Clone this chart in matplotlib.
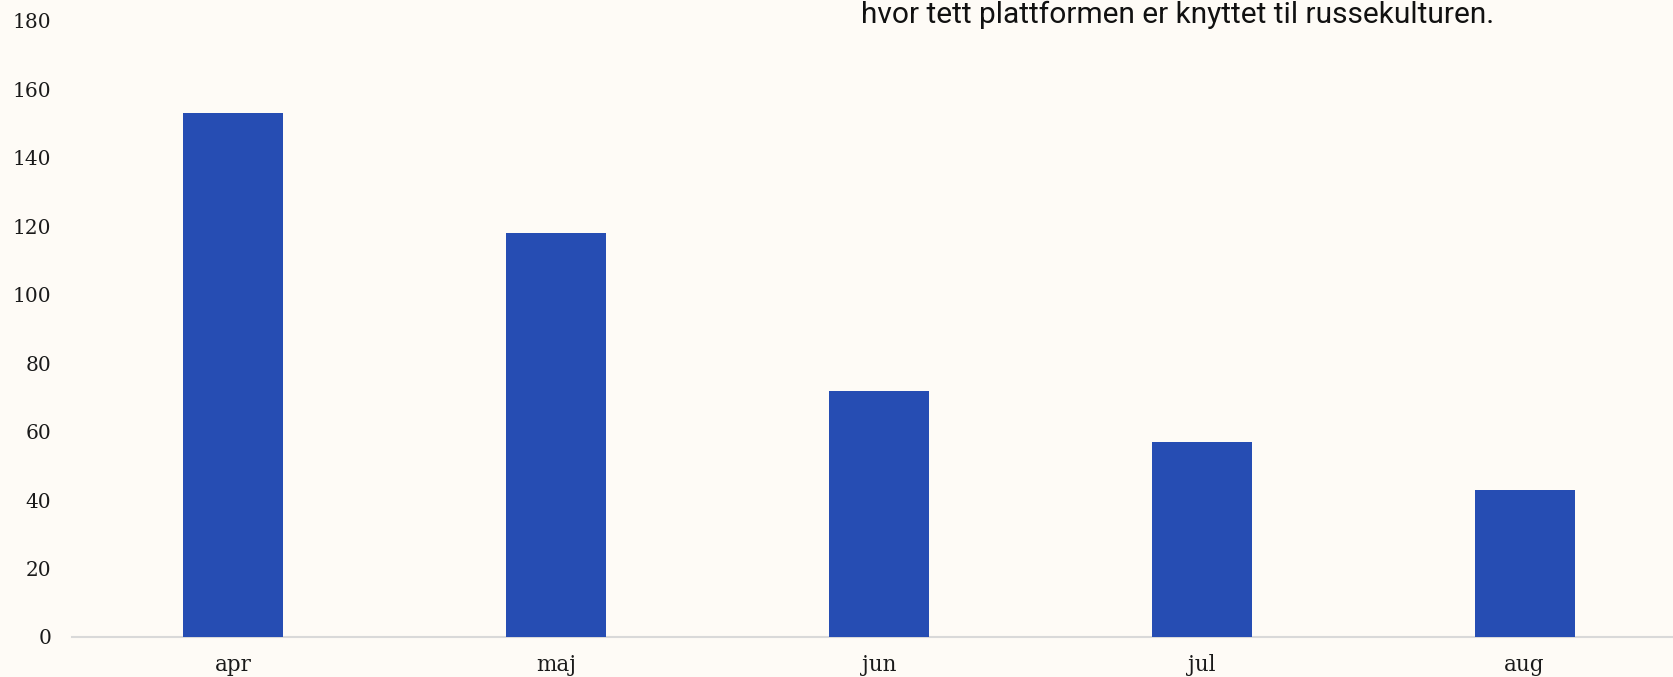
import matplotlib.pyplot as plt

months = ['apr', 'maj', 'jun', 'jul', 'aug']
counts = [153, 118, 72, 57, 43]
y_ticks = [0, 20, 40, 60, 80, 100, 120, 140, 160, 180]
subtitle = 'hvor tett plattformen er knyttet til russekulturen.'

bg = '#FEFBF6'
bar_color = '#264DB3'

fig = plt.figure(figsize=(16.73, 6.77), dpi=100, facecolor=bg)
ax = fig.add_axes([0.043, 0.0591, 0.9648, 0.910], facecolor=bg)

x = range(len(months))
ax.bar(x, counts, width=0.31, color=bar_color, zorder=3)

ax.set_xlim(-0.5, 4.5)
ax.set_ylim(0, 180)
ax.set_yticks(y_ticks)
ax.set_yticklabels([str(t) for t in y_ticks], family='DejaVu Serif', fontsize=14.5)
ax.set_xticks(list(x))
ax.set_xticklabels(months, family='DejaVu Serif', fontsize=15.5)
ax.tick_params(axis='both', length=0, colors='#1a1a1a')
ax.tick_params(axis='y', pad=15)
ax.tick_params(axis='x', pad=12)

for side in ['top', 'right', 'left']:
    ax.spines[side].set_visible(False)
ax.spines['bottom'].set_color('#D9D9D9')
ax.spines['bottom'].set_linewidth(1.5)

fig.text(1178 / 1673, 1 - 23 / 677, subtitle, ha='center', va='baseline',
         family='Roboto', fontsize=21.5, color='#111111')

fig.savefig('out.png', dpi=100, facecolor=bg)
